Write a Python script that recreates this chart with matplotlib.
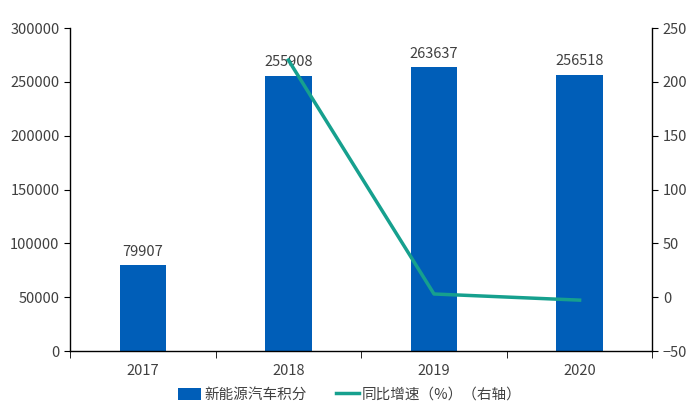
import matplotlib
matplotlib.use('Agg')
from matplotlib import pyplot as plt

plt.rcParams['font.family'] = ['Noto Sans CJK SC', 'DejaVu Sans']

years = ['2017', '2018', '2019', '2020']
credits = [79907, 255908, 263637, 256518]
growth_years = ['2018', '2019', '2020']
growth = [220.3, 3.0, -2.7]

BAR_COLOR = '#005eb8'
LINE_COLOR = '#16a08e'
TEXT_COLOR = '#404040'

fig = plt.figure(figsize=(7, 4.13), dpi=100)
ax = fig.add_axes([0.1, 0.15, 0.832, 0.782])
ax2 = ax.twinx()

x = list(range(len(years)))
bars = ax.bar(x, credits, width=0.32, color=BAR_COLOR, label='新能源汽车积分', zorder=2)
for xi, v in zip(x, credits):
    ax.text(xi, v + 6000, str(v), ha='center', va='bottom', fontsize=10.5, color=TEXT_COLOR)

gx = [years.index(y) for y in growth_years]
line, = ax2.plot(gx, growth, color=LINE_COLOR, linewidth=2.5, label='同比增速（%）（右轴）', zorder=3)

ax.set_xlim(-0.5, 3.5)
ax.set_ylim(0, 300000)
ax.set_yticks(range(0, 300001, 50000))
ax2.set_ylim(-50, 250)
ax2.set_yticks(range(-50, 251, 50))

ax.set_xticks(x)
ax.set_xticklabels(years)
ax.set_xticks([-0.5, 0.5, 1.5, 2.5, 3.5], minor=True)
ax.tick_params(axis='x', which='major', length=0, pad=9)
ax.tick_params(axis='x', which='minor', length=5, direction='out', color='black')

for a in (ax, ax2):
    a.tick_params(axis='y', length=4, direction='out', colors=TEXT_COLOR, labelsize=10.5)
    a.tick_params(axis='y', color='black')
    a.spines['top'].set_visible(False)
    for s in ('left', 'right', 'bottom'):
        a.spines[s].set_color('black')
        a.spines[s].set_linewidth(1.0)
ax.tick_params(axis='x', labelsize=10.5, labelcolor=TEXT_COLOR)
ax.spines['right'].set_visible(False)
ax2.spines['left'].set_visible(False)
ax2.spines['bottom'].set_visible(False)

fig.legend([bars, line], ['新能源汽车积分', '同比增速（%）（右轴）'], loc='lower center',
           bbox_to_anchor=(0.5, -0.005), ncol=2, frameon=False, fontsize=10.5,
           handlelength=1.6, handleheight=0.9, columnspacing=2.0, handletextpad=0.2,
           labelcolor=TEXT_COLOR)

fig.savefig('out.png', dpi=100)
